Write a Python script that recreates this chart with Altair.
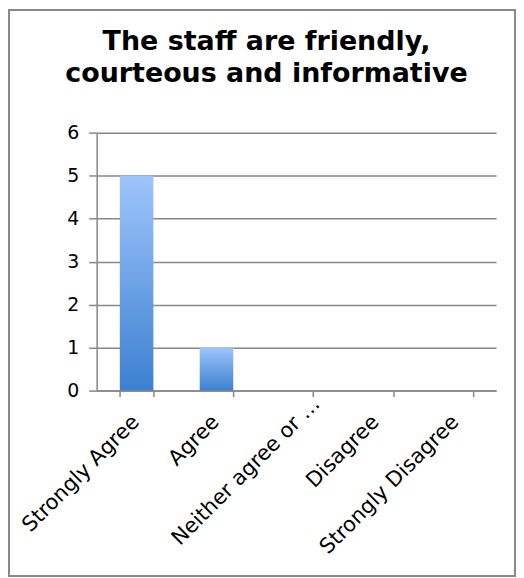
import altair as alt
import pandas as pd

categories = ["Strongly Agree", "Agree", "Neither agree or \u2026", "Disagree", "Strongly Disagree"]
counts = [5, 1, 0, 0, 0]
y_ticks = [0, 1, 2, 3, 4, 5, 6]
title_lines = ["The staff are friendly,", "courteous and informative"]

df = pd.DataFrame({"category": categories, "count": counts})

FONT = "DejaVu Sans"
GREY = "#878787"
TEST = "datum.value === '" + categories[2] + "'"

bars = alt.Chart(df).mark_bar(
    color=alt.Gradient(
        gradient="linear",
        stops=[alt.GradientStop(color="#9fc5fb", offset=0),
               alt.GradientStop(color="#3b80d0", offset=1)],
        x1=0, x2=0, y1=0, y2=1,
    )
).encode(
    x=alt.X("category:N", sort=categories, title=None,
            scale=alt.Scale(paddingInner=0.58, paddingOuter=0.29),
            axis=alt.Axis(tickBand="extent", labelAngle=-45, labelAlign="right",
                          labelBaseline="middle", labelLimit=400,
                          labelFont=FONT, labelFontSize=21, labelColor="black",
                          labelPadding={"condition": {"test": TEST, "value": 4}, "value": 22},
                          labelOffset={"condition": {"test": TEST, "value": 20}, "value": -1},
                          tickSize=6, tickColor=GREY, tickWidth=1.5,
                          domainColor=GREY, domainWidth=1.5, grid=False)),
    y=alt.Y("count:Q", title=None,
            scale=alt.Scale(domain=[0, 6], nice=False),
            axis=alt.Axis(values=y_ticks, grid=True, gridColor=GREY, gridWidth=1.5,
                          tickSize=8, tickColor=GREY, tickWidth=1.5,
                          domainColor=GREY, domainWidth=1.5,
                          labelFont=FONT, labelFontSize=19, labelColor="black",
                          labelPadding=10)),
)

border = alt.Chart(pd.DataFrame({"a": [0]})).mark_rect(
    fillOpacity=0, stroke="#898989", strokeWidth=2
).encode(
    x=alt.value(-88), x2=alt.value(420),
    y=alt.value(-123), y2=alt.value(445),
)

chart = alt.layer(border, bars).properties(
    width=401, height=259,
    padding={"left": 89, "top": 124, "right": 20, "bottom": 187},
    autosize=alt.AutoSizeParams(type="none"),
    title=alt.TitleParams(title_lines, font=FONT, fontSize=27, fontWeight="bold",
                          color="black", lineHeight=32, anchor="middle", dx=-30,
                          offset=-79),
).configure_view(stroke=None)

chart.save("out.html", embed_options={"renderer": "svg", "actions": False})
